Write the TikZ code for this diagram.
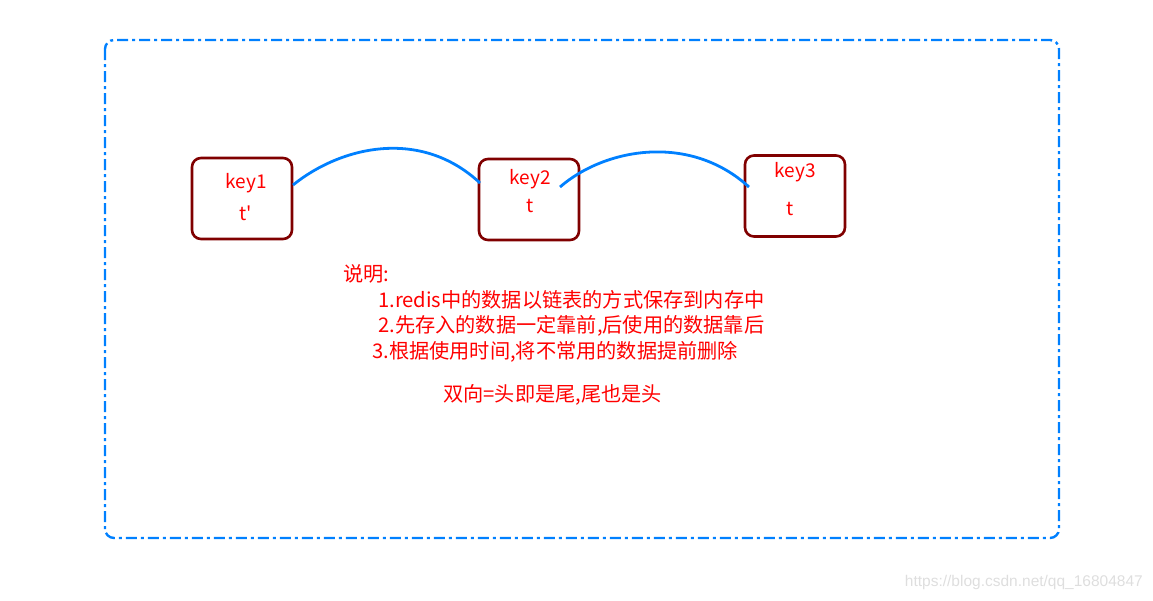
\documentclass[tikz,border=0pt]{standalone}
\usepackage{fontspec}
\setmainfont{Noto Sans CJK SC}
\newfontfamily\keyfont{Noto Sans CJK SC}
\newfontfamily\wmfont{Liberation Sans}
\definecolor{lineblue}{RGB}{0,128,255}
\definecolor{boxred}{RGB}{128,0,0}
\definecolor{txtred}{RGB}{255,0,0}
\definecolor{wmgray}{RGB}{222,222,222}
\begin{document}
\begin{tikzpicture}[x=1pt,y=-1pt,
  keybox/.style={draw=boxred,line width=2.6pt,rounded corners=9pt,minimum width=100pt,minimum height=81pt,inner sep=0pt},
  lbl/.style={text=txtred,font=\keyfont\fontsize{19}{22}\selectfont,inner sep=0pt},
  note/.style={text=txtred,font=\fontsize{20.2}{23}\selectfont,inner sep=0pt,anchor=west},
  link/.style={draw=lineblue,line width=2.8pt},
  frame/.style={draw=lineblue,line width=2.4pt,rounded corners=9pt,dash pattern=on 11pt off 4pt on 3pt off 4pt}]
\useasboundingbox (0,0) rectangle (1153,600);
\draw[frame] (105,40) rectangle (1059,538);
\node[keybox] (b1) at (242,198.5) {};
\node[keybox] (b2) at (529,199.5) {};
\node[keybox] (b3) at (795,196) {};
\node[lbl] (k1) at (246,183) {key1};
\node[lbl] (t1) at (246,213) {t'};
\node[lbl] (k2) at (530,179) {key2};
\node[lbl] (t2) at (530,206) {t};
\node[lbl] (k3) at (795,172) {key3};
\node[lbl] (t3) at (790,209) {t};
\coordinate (c1s) at (293,185);
\coordinate (c1e) at (480,183);
\coordinate (c2s) at (560,187);
\coordinate (c2e) at (749,187);
\draw[link] (c1s) .. controls (340,147) and (420,127) .. (c1e);
\draw[link] (c2s) .. controls (605,148) and (690,133) .. (c2e);
\node[note] (n0) at (343,274) {说明:};
\node[note] (n1) at (378,300) {1.redis中的数据以链表的方式保存到内存中};
\node[note] (n2) at (378,326) {2.先存入的数据一定靠前,后使用的数据靠后};
\node[note] (n3) at (372,352) {3.根据使用时间,将不常用的数据提前删除};
\node[note] (n4) at (443,395) {双向=头即是尾,尾也是头};
\node[anchor=east,text=wmgray,font=\wmfont\fontsize{15.5}{17}\selectfont,inner sep=0pt] (wm) at (1143,582) {https://blog.csdn.net/qq\_16804847};
\end{tikzpicture}
\end{document}
